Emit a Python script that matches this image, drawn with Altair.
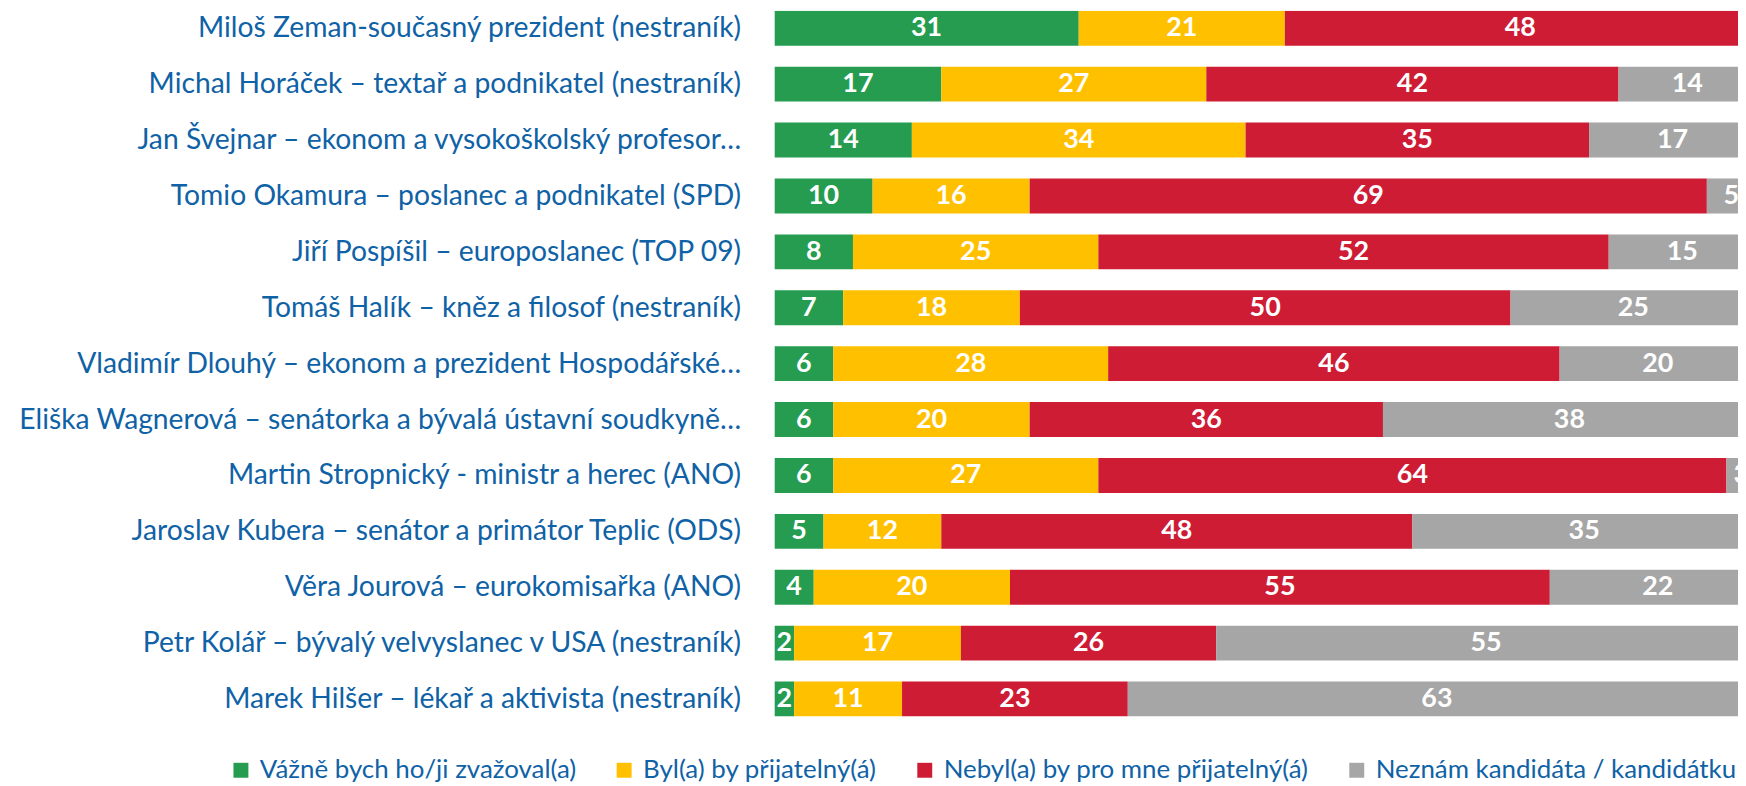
import altair as alt
import pandas as pd

candidates = [
    "Miloš Zeman-současný prezident (nestraník)",
    "Michal Horáček – textař a podnikatel (nestraník)",
    "Jan Švejnar – ekonom a vysokoškolský profesor…",
    "Tomio Okamura – poslanec a podnikatel (SPD)",
    "Jiří Pospíšil – europoslanec (TOP 09)",
    "Tomáš Halík – kněz a filosof (nestraník)",
    "Vladimír Dlouhý – ekonom a prezident Hospodářské…",
    "Eliška Wagnerová – senátorka a bývalá ústavní soudkyně…",
    "Martin Stropnický - ministr a herec (ANO)",
    "Jaroslav Kubera – senátor a primátor Teplic (ODS)",
    "Věra Jourová – eurokomisařka (ANO)",
    "Petr Kolář – bývalý velvyslanec v USA (nestraník)",
    "Marek Hilšer – lékař a aktivista (nestraník)",
]
serious = [31, 17, 14, 10, 8, 7, 6, 6, 6, 5, 4, 2, 2]
acceptable = [21, 27, 34, 16, 25, 18, 28, 20, 27, 12, 20, 17, 11]
unacceptable = [48, 42, 35, 69, 52, 50, 46, 36, 64, 48, 55, 26, 23]
unknown = [0, 14, 17, 5, 15, 25, 20, 38, 3, 35, 22, 55, 63]

categories = [
    "Vážně bych ho/ji zvažoval(a)",
    "Byl(a) by přijatelný(á)",
    "Nebyl(a) by pro mne přijatelný(á)",
    "Neznám kandidáta / kandidátku",
]
colors = ["#259C50", "#FFC000", "#CE1C35", "#A6A6A6"]

series = [serious, acceptable, unacceptable, unknown]
rows = []
for i, name in enumerate(candidates):
    for j, cat in enumerate(categories):
        v = series[j][i]
        if v > 0:
            rows.append({"name": name, "cat": cat, "order": j, "value": v})
df = pd.DataFrame(rows)

PAD_LEFT = 770
W = 1738 - PAD_LEFT
H = 709
XMAX = W / 9.86
LABEL_BLUE = "#0F62A6"

base = alt.Chart(df).transform_stack(
    stack="value", groupby=["name"], as_=["x0", "x1"], sort=[alt.SortField("order")]
).transform_calculate(mid="(datum.x0 + datum.x1) / 2")

xs = alt.Scale(domain=[0, XMAX], nice=False, zero=True)
y = alt.Y(
    "name:N",
    sort=candidates,
    title=None,
    scale=alt.Scale(paddingInner=0.375, paddingOuter=0),
    axis=alt.Axis(
        domain=False,
        ticks=False,
        labelFont="Lato",
        labelFontSize=28.4,
        labelColor=LABEL_BLUE,
        labelLimit=800,
        labelPadding=34,
    ),
)

bars = base.mark_bar(clip=True).encode(
    x=alt.X("x0:Q", scale=xs, axis=None),
    x2="x1:Q",
    y=y,
    color=alt.Color(
        "cat:N",
        scale=alt.Scale(domain=categories, range=colors),
        legend=alt.Legend(
            title=None,
            orient="none",
            legendX=-549,
            legendY=750,
            direction="horizontal",
            columns=4,
            symbolType="square",
            symbolSize=225,
            symbolStrokeWidth=0,
            labelFont="Lato",
            labelFontSize=26,
            labelColor=LABEL_BLUE,
            labelLimit=600,
            labelOffset=6,
            columnPadding=35,
            padding=0,
        ),
    ),
)

labels = base.mark_text(
    clip=True, color="white", font="Lato", fontWeight="bold", fontSize=27, baseline="middle"
).encode(
    x=alt.X("mid:Q", scale=xs, axis=None),
    y=y,
    text="value:Q",
)

chart = (
    alt.layer(bars, labels)
    .properties(
        width=W,
        height=H,
        padding={"left": PAD_LEFT, "top": 1, "right": 0, "bottom": 67},
        autosize=alt.AutoSizeParams(type="none"),
    )
    .configure_view(stroke=None)
)

chart.save("out.html", embed_options={"renderer": "svg", "actions": False})
